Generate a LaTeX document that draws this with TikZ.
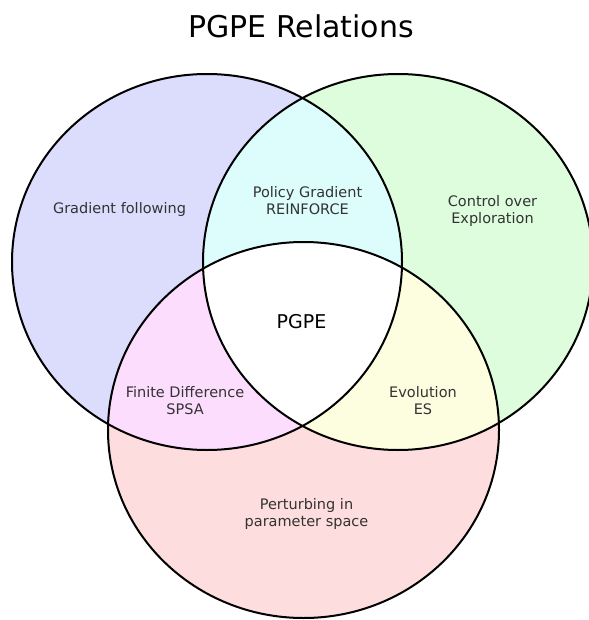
\documentclass[tikz,border=0pt]{standalone}
\usepackage{fontspec}
\setmainfont{DejaVu Sans}
\definecolor{cblue}{RGB}{220,220,253}
\definecolor{cgreen}{RGB}{221,253,221}
\definecolor{cred}{RGB}{253,221,221}
\definecolor{ccyan}{RGB}{221,253,253}
\definecolor{cpink}{RGB}{253,221,253}
\definecolor{cyellow}{RGB}{253,253,223}
\definecolor{ctext}{RGB}{51,51,51}
\begin{document}
\begin{tikzpicture}[x=1pt,y=-1pt,
  lab/.style={text=ctext,font=\fontsize{14.5}{17}\selectfont,align=center,inner sep=0pt},
  outline/.style={draw=black,line width=2pt}]
\useasboundingbox (0,0) rectangle (588,620);
\def\blueE{(207,262) ellipse [x radius=195, y radius=188]}
\def\greenE{(398,262) ellipse [x radius=195, y radius=188]}
\def\redE{(303.5,430) ellipse [x radius=195.5, y radius=188]}
\fill[cblue] \blueE;
\fill[cgreen] \greenE;
\fill[cred] \redE;
\begin{scope}\clip \blueE; \fill[ccyan] \greenE; \end{scope}
\begin{scope}\clip \blueE; \fill[cpink] \redE; \end{scope}
\begin{scope}\clip \greenE; \fill[cyellow] \redE; \end{scope}
\begin{scope}\clip \blueE; \clip \greenE; \fill[white] \redE; \end{scope}
\draw[outline] \blueE;
\draw[outline] \greenE;
\draw[outline] \redE;
\node[font=\fontsize{30}{36}\selectfont,inner sep=0pt] (title) at (301,26) {PGPE Relations};
\node[lab] (grad) at (119.5,209) {Gradient following};
\node[lab] (pg) at (307.5,200.5) {Policy Gradient\\REINFORCE};
\node[lab] (ctrl) at (492.5,211) {Control over\\Exploration};
\node[font=\fontsize{19}{22}\selectfont,inner sep=0pt] (pgpe) at (301.5,322) {PGPE};
\node[lab] (fd) at (185,400.5) {Finite Difference\\SPSA};
\node[lab] (evo) at (423,400.5) {Evolution\\ES};
\node[lab] (pert) at (306.5,513.5) {Perturbing in\\parameter space};
\end{tikzpicture}
\end{document}
